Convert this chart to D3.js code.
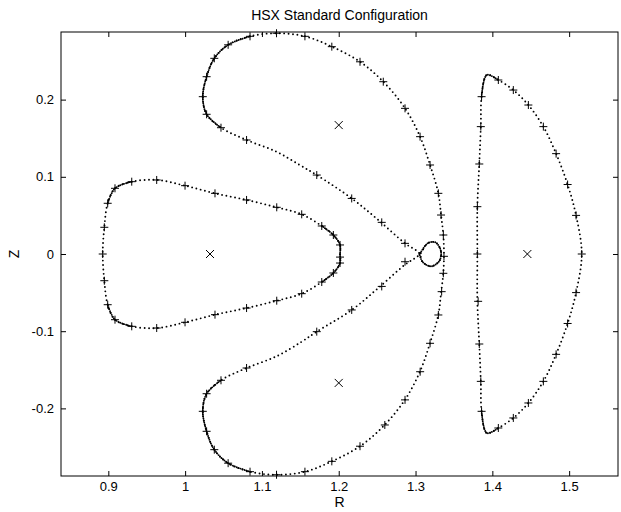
<!DOCTYPE html>
<html>
<head>
<meta charset="utf-8">
<script src="https://cdn.jsdelivr.net/npm/d3@7"></script>
<style>
  html, body { margin: 0; padding: 0; background: #fff; }
  svg { display: block; font-family: "Liberation Sans", Arial, Helvetica, sans-serif; }
</style>
</head>
<body>
<svg id="chart" width="621" height="512"></svg>
<script>
// Poincaré section of the HSX standard configuration, (R, Z) in metres.

// Outer separatrix-like surface: top island, outer arc, bottom island, with the loop at the X-point.
const separatrix = [
  [1.119, 0.286], [1.156, 0.282], [1.191, 0.2686], [1.2277, 0.249], [1.258, 0.2232],
  [1.2863, 0.1887], [1.3059, 0.152], [1.3189, 0.1153], [1.3297, 0.0786], [1.3332, 0.0505],
  [1.3362, 0.0246], [1.337, 0.0], [1.3362, -0.0246], [1.3332, -0.0505], [1.3297, -0.0786],
  [1.3189, -0.1153], [1.3059, -0.152], [1.2863, -0.1887], [1.258, -0.2232], [1.2277, -0.249],
  [1.191, -0.2686], [1.156, -0.282], [1.119, -0.286],
  [1.0845, -0.282], [1.056, -0.271], [1.038, -0.2535], [1.028, -0.2297], [1.023, -0.2038],
  [1.028, -0.181], [1.0467, -0.1636], [1.080, -0.1477], [1.119, -0.1325], [1.1518, -0.1136],
  [1.1714, -0.1006], [1.2169, -0.0725], [1.2516, -0.044], [1.2863, -0.0138], [1.305, -0.001],
  [1.316, 0.014], [1.326, 0.015], [1.333, 0.004], [1.331, -0.009], [1.320, -0.016], [1.309, -0.010], [1.305, 0.001],
  [1.2863, 0.0138], [1.2516, 0.044], [1.2169, 0.072], [1.1714, 0.1023], [1.1496, 0.115],
  [1.119, 0.1325], [1.080, 0.1477], [1.0467, 0.1636], [1.028, 0.181], [1.023, 0.2038],
  [1.028, 0.2297], [1.038, 0.2535], [1.056, 0.271], [1.0845, 0.282]
];

// Inboard (triangular) island.
const leftIsland = [
  [1.2017, 0.0], [1.2017, 0.0117], [1.193, 0.0246], [1.1779, 0.0363], [1.1518, 0.0514],
  [1.1193, 0.0605], [1.080, 0.070], [1.0389, 0.0786], [0.9999, 0.0885], [0.963, 0.0959],
  [0.9305, 0.0937], [0.9087, 0.0851], [0.8992, 0.0657], [0.8948, 0.0346], [0.8927, 0.0],
  [0.8948, -0.0346], [0.8992, -0.0657], [0.9087, -0.0851], [0.9305, -0.0937], [0.963, -0.0959],
  [0.9999, -0.0885], [1.0389, -0.0786], [1.080, -0.070], [1.1193, -0.0605], [1.1518, -0.0514],
  [1.1779, -0.0363], [1.193, -0.0246], [1.2017, -0.0117]
];

// Outboard D-shaped island.
const rightIsland = [
  [1.3805, 0.0], [1.3805, 0.0613], [1.383, 0.1166], [1.385, 0.165], [1.386, 0.2038],
  [1.3927, 0.2319], [1.4078, 0.2254], [1.4273, 0.2124], [1.4469, 0.193], [1.4664, 0.165],
  [1.483, 0.130], [1.498, 0.090], [1.509, 0.050], [1.5164, 0.0],
  [1.509, -0.050], [1.498, -0.090], [1.483, -0.130], [1.4664, -0.165], [1.4469, -0.193],
  [1.4273, -0.2124], [1.4078, -0.2254], [1.3927, -0.2319], [1.386, -0.2038], [1.385, -0.165],
  [1.383, -0.1166], [1.3805, -0.0613]
];

// Stretches where the puncture points crowd together into an almost solid trace.
const denseArcs = [
  [[1.0845, 0.282], [1.056, 0.271], [1.038, 0.2535], [1.028, 0.2297], [1.023, 0.2038], [1.028, 0.181], [1.0467, 0.1636]],
  [[1.0845, -0.282], [1.056, -0.271], [1.038, -0.2535], [1.028, -0.2297], [1.023, -0.2038], [1.028, -0.181], [1.0467, -0.1636]],
  [[1.1779, 0.0363], [1.193, 0.0246], [1.2017, 0.0117], [1.2017, 0.0], [1.2017, -0.0117], [1.193, -0.0246], [1.1779, -0.0363]],
  [[0.9305, 0.0937], [0.9087, 0.0851], [0.8992, 0.0657]],
  [[0.9305, -0.0937], [0.9087, -0.0851], [0.8992, -0.0657]],
  [[1.386, 0.2038], [1.3927, 0.2319], [1.4078, 0.2254]],
  [[1.386, -0.2038], [1.3927, -0.2319], [1.4078, -0.2254]],
  [[1.305, -0.001], [1.316, 0.014], [1.326, 0.015], [1.333, 0.004], [1.331, -0.009], [1.320, -0.016], [1.309, -0.010], [1.305, 0.001]]
];

// Field-line launch points marked with "+".
const plusPoints = [
  [1.119, 0.286], [1.0845, 0.282], [1.056, 0.271], [1.038, 0.2535], [1.028, 0.2297],
  [1.023, 0.2038], [1.028, 0.181], [1.0467, 0.1636], [1.080, 0.1477], [1.156, 0.282],
  [1.191, 0.2686], [1.2277, 0.249], [1.258, 0.2232], [1.2863, 0.1887], [1.3059, 0.152],
  [1.3189, 0.1153], [1.3297, 0.0786], [1.3332, 0.0505], [1.3362, 0.0246], [1.337, -0.003],
  [1.3362, -0.025], [1.334, -0.0488], [1.3297, -0.079], [1.3189, -0.1157], [1.306, -0.1525],
  [1.2863, -0.189], [1.260, -0.2215], [1.2277, -0.249], [1.191, -0.2686], [1.156, -0.282],
  [1.119, -0.286], [1.0845, -0.282], [1.056, -0.271], [1.038, -0.2535], [1.028, -0.2297],
  [1.023, -0.2038], [1.028, -0.181], [1.0467, -0.1636], [1.080, -0.1477],
  [1.1714, 0.1023], [1.2169, 0.072], [1.256, 0.041], [1.2863, 0.0138],
  [1.1714, -0.1006], [1.2169, -0.0725], [1.256, -0.042], [1.2863, -0.010],
  [1.2017, 0.0117], [1.2017, -0.004], [1.2017, -0.0117], [1.193, 0.0246], [1.1779, 0.0363],
  [1.1518, 0.0514], [1.1193, 0.0605], [1.080, 0.070], [1.0389, 0.0786], [0.9999, 0.0885],
  [0.963, 0.0959], [0.9305, 0.0937], [0.9087, 0.0851], [0.8992, 0.0657], [0.8948, 0.0346],
  [0.8927, 0.0], [0.8948, -0.0346], [0.8992, -0.0657], [0.9087, -0.0851], [0.9305, -0.0937],
  [0.963, -0.0959], [0.9999, -0.0885], [1.0389, -0.0786], [1.080, -0.070], [1.1193, -0.0605],
  [1.1518, -0.0514], [1.1779, -0.0363], [1.193, -0.0246],
  [1.386, 0.2038], [1.385, 0.165], [1.383, 0.1166], [1.3805, 0.0613], [1.3805, 0.0],
  [1.3815, -0.0613], [1.383, -0.1166], [1.385, -0.165], [1.386, -0.2038],
  [1.4078, 0.2254], [1.4273, 0.2124], [1.4469, 0.193], [1.4664, 0.165], [1.483, 0.130],
  [1.498, 0.090], [1.509, 0.050], [1.5164, 0.0], [1.509, -0.050], [1.498, -0.090],
  [1.483, -0.130], [1.4664, -0.165], [1.4469, -0.193], [1.4273, -0.2124], [1.4078, -0.2254]
];

// Island O-points marked with "x".
const oPoints = [
  [1.0324, 0.0], [1.2, 0.167], [1.2, -0.167], [1.4456, 0.0]
];

const xTicks = [0.9, 1.0, 1.1, 1.2, 1.3, 1.4, 1.5];
const yTicks = [-0.2, -0.1, 0, 0.1, 0.2];

const svg = d3.select("#chart");
const frame = { left: 61, right: 618, top: 32, bottom: 476 };

const x = d3.scaleLinear().domain([0.8384, 1.5636]).range([frame.left, frame.right]);
const y = d3.scaleLinear().domain([-0.2876, 0.2876]).range([frame.bottom, frame.top]);

const fmt = d => String(+d.toFixed(1));
const tickFont = 13;
const labelFont = 14;

// Frame
svg.append("rect")
  .attr("x", frame.left).attr("y", frame.top)
  .attr("width", frame.right - frame.left).attr("height", frame.bottom - frame.top)
  .attr("fill", "none").attr("stroke", "#000").attr("stroke-width", 1);

function styleAxis(g) {
  g.select(".domain").remove();
  g.selectAll(".tick line").attr("stroke", "#000");
  g.selectAll(".tick text").attr("fill", "#000").attr("font-size", tickFont);
}

svg.append("g").attr("transform", `translate(0,${frame.bottom})`)
  .call(d3.axisBottom(x).tickValues(xTicks).tickFormat(fmt).tickSizeInner(-5).tickSizeOuter(0).tickPadding(6))
  .call(styleAxis);
svg.append("g").attr("transform", `translate(0,${frame.top})`)
  .call(d3.axisTop(x).tickValues(xTicks).tickFormat("").tickSizeInner(-5).tickSizeOuter(0))
  .call(styleAxis);
svg.append("g").attr("transform", `translate(${frame.left},0)`)
  .call(d3.axisLeft(y).tickValues(yTicks).tickFormat(fmt).tickSizeInner(-5).tickSizeOuter(0).tickPadding(7))
  .call(styleAxis);
svg.append("g").attr("transform", `translate(${frame.right},0)`)
  .call(d3.axisRight(y).tickValues(yTicks).tickFormat("").tickSizeInner(-5).tickSizeOuter(0))
  .call(styleAxis);

// Titles
const midX = (frame.left + frame.right) / 2;
svg.append("text")
  .attr("x", midX).attr("y", 20)
  .attr("text-anchor", "middle").attr("font-size", labelFont).attr("fill", "#000")
  .text("HSX Standard Configuration");
svg.append("text")
  .attr("x", midX).attr("y", 507)
  .attr("text-anchor", "middle").attr("font-size", labelFont).attr("fill", "#000")
  .text("R");
svg.append("text")
  .attr("transform", `translate(19,${(frame.top + frame.bottom) / 2}) rotate(-90)`)
  .attr("text-anchor", "middle").attr("font-size", labelFont).attr("fill", "#000")
  .text("Z");

// Dotted flux-surface traces
const closedLine = d3.line().x(d => x(d[0])).y(d => y(d[1])).curve(d3.curveCatmullRomClosed.alpha(0.5));
const openLine = d3.line().x(d => x(d[0])).y(d => y(d[1])).curve(d3.curveCatmullRom.alpha(0.5));
const plot = svg.append("g");
[separatrix, leftIsland, rightIsland].forEach(pts => {
  plot.append("path")
    .attr("d", closedLine(pts))
    .attr("fill", "none")
    .attr("stroke", "#000")
    .attr("stroke-width", 1.9)
    .attr("stroke-linecap", "round")
    .attr("stroke-dasharray", "0 4.4");
});
denseArcs.forEach(pts => {
  plot.append("path")
    .attr("d", openLine(pts))
    .attr("fill", "none")
    .attr("stroke", "#000")
    .attr("stroke-width", 1.9)
    .attr("stroke-linecap", "round")
    .attr("stroke-dasharray", "0 2");
});

// "+" markers
plot.selectAll("path.plus").data(plusPoints).join("path")
  .attr("class", "plus")
  .attr("transform", d => `translate(${x(d[0])},${y(d[1])})`)
  .attr("d", "M-4,0H4M0,-4V4")
  .attr("stroke", "#000").attr("stroke-width", 1).attr("fill", "none");

// "x" markers
plot.selectAll("path.cross").data(oPoints).join("path")
  .attr("class", "cross")
  .attr("transform", d => `translate(${x(d[0])},${y(d[1])})`)
  .attr("d", "M-4,-4L4,4M-4,4L4,-4")
  .attr("stroke", "#000").attr("stroke-width", 1).attr("fill", "none");
</script>
</body>
</html>
